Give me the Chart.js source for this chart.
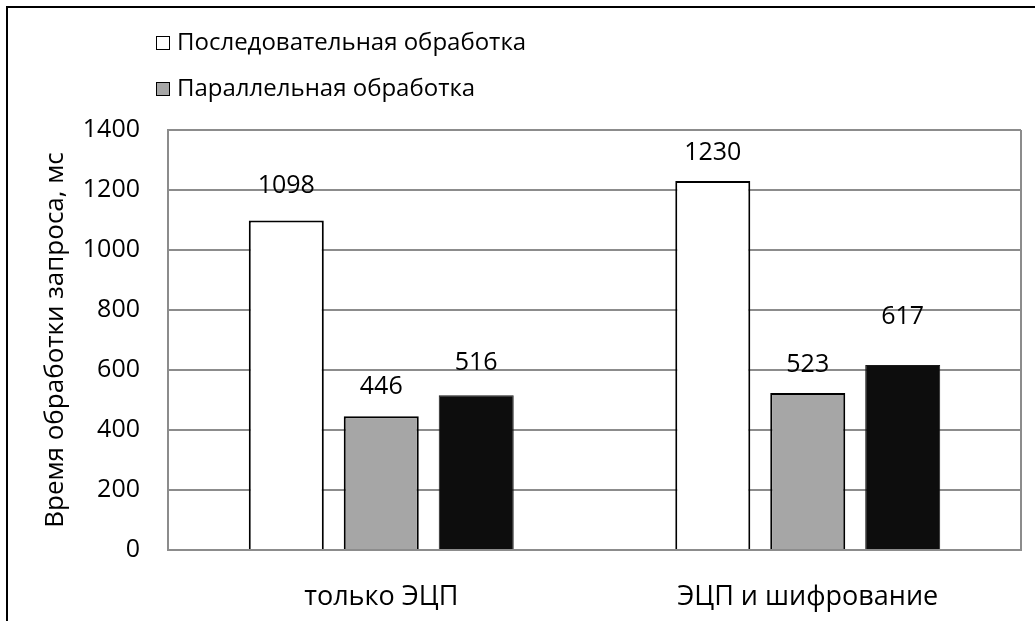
<!DOCTYPE html>
<html>
<head>
<meta charset="utf-8">
<script src="https://cdn.jsdelivr.net/npm/chart.js@4.4.0/dist/chart.umd.min.js"></script>
<style>
  html, body { margin: 0; padding: 0; background: #fff; }
  #wrap { position: relative; width: 1035px; height: 621px; }
</style>
</head>
<body>
<div id="wrap"><canvas id="chart1" width="1035" height="621"></canvas></div>
<script>
// data
const categories = ['только ЭЦП', 'ЭЦП и шифрование'];
const seriesNames = ['Последовательная обработка', 'Параллельная обработка', ''];
const sequentialData = [1098, 1230];
const parallelData = [446, 523];
const thirdData = [516, 617];
const yMin = 0, yMax = 1400, yStep = 200;

const fontFamily = "'Open Sans', 'DejaVu Sans', sans-serif";
const gridColor = '#8c8c8c';
// label lift above each bar top (the labels in the source were nudged by hand)
const labelLift = [[35, 28], [29, 28], [32, 48]];

// thin frame round the whole figure (top and left edges only)
const framePlugin = {
  id: 'frame',
  beforeDraw(chart) {
    const ctx = chart.ctx;
    ctx.save();
    ctx.strokeStyle = '#000';
    ctx.lineWidth = 2;
    ctx.beginPath();
    ctx.moveTo(7, chart.height);
    ctx.lineTo(7, 7);
    ctx.lineTo(chart.width, 7);
    ctx.stroke();
    ctx.restore();
  }
};

// right edge of the plot area
const plotBoxPlugin = {
  id: 'plotBox',
  beforeDatasetsDraw(chart) {
    const a = chart.chartArea, ctx = chart.ctx;
    ctx.save();
    ctx.strokeStyle = gridColor;
    ctx.lineWidth = 2;
    ctx.beginPath();
    ctx.moveTo(a.right, a.top);
    ctx.lineTo(a.right, a.bottom);
    ctx.stroke();
    ctx.restore();
  }
};

// values over the bars
const valueLabels = {
  id: 'valueLabels',
  afterDatasetsDraw(chart) {
    const ctx = chart.ctx;
    ctx.save();
    ctx.font = '25px ' + fontFamily;
    ctx.fillStyle = '#000';
    ctx.textAlign = 'center';
    ctx.textBaseline = 'middle';
    chart.data.datasets.forEach((ds, i) => {
      chart.getDatasetMeta(i).data.forEach((bar, j) => {
        ctx.fillText(String(ds.data[j]), bar.x, bar.y - labelLift[i][j]);
      });
    });
    ctx.restore();
  }
};

// stacked legend at top-left, only named series
const stackedLegend = {
  id: 'stackedLegend',
  afterDraw(chart) {
    const ctx = chart.ctx;
    ctx.save();
    ctx.font = '24px ' + fontFamily;
    ctx.textBaseline = 'middle';
    let y = 43;
    chart.data.datasets.forEach(ds => {
      if (!ds.label) return;
      ctx.fillStyle = ds.backgroundColor;
      ctx.fillRect(156, y - 7, 14, 14);
      ctx.strokeStyle = '#000';
      ctx.lineWidth = 1;
      ctx.strokeRect(156.5, y - 6.5, 13, 13);
      ctx.fillStyle = '#000';
      ctx.fillText(ds.label, 177, y);
      y += 46;
    });
    ctx.restore();
  }
};

const ctx = document.getElementById('chart1').getContext('2d');
const chart1 = new Chart(ctx, {
  type: 'bar',
  data: {
    labels: categories,
    datasets: [
      { label: seriesNames[0], data: sequentialData, backgroundColor: '#ffffff', borderColor: '#000000', borderWidth: 2 },
      { label: seriesNames[1], data: parallelData, backgroundColor: '#a6a6a6', borderColor: '#000000', borderWidth: 2 },
      { label: seriesNames[2], data: thirdData, backgroundColor: '#0d0d0d', borderColor: '#1a1a1a', borderWidth: 1 }
    ]
  },
  options: {
    responsive: false,
    animation: false,
    categoryPercentage: 0.668,
    barPercentage: 0.79,
    layout: { padding: { top: 130, right: 14, left: 0, bottom: 0 } },
    plugins: {
      legend: { display: false },
      tooltip: { enabled: false }
    },
    scales: {
      x: {
        grid: { display: false },
        border: { display: true, color: gridColor, width: 2 },
        ticks: { color: '#000', font: { family: fontFamily, size: 27 }, padding: 23 },
        afterFit(s) { s.height = 71; }
      },
      y: {
        min: yMin,
        max: yMax,
        ticks: {
          stepSize: yStep,
          color: '#000',
          font: { family: fontFamily, size: 25 },
          padding: 28,
          callback: v => String(v)
        },
        grid: { color: gridColor, lineWidth: 2, drawTicks: false },
        border: { display: true, color: gridColor, width: 2 },
        title: {
          display: true,
          text: 'Время обработки запроса, мс',
          color: '#000',
          font: { family: fontFamily, size: 26 },
          padding: { top: 40, bottom: 0 }
        },
        afterFit(s) { s.width = 168; }
      }
    }
  },
  plugins: [framePlugin, plotBoxPlugin, valueLabels, stackedLegend]
});
</script>
</body>
</html>
